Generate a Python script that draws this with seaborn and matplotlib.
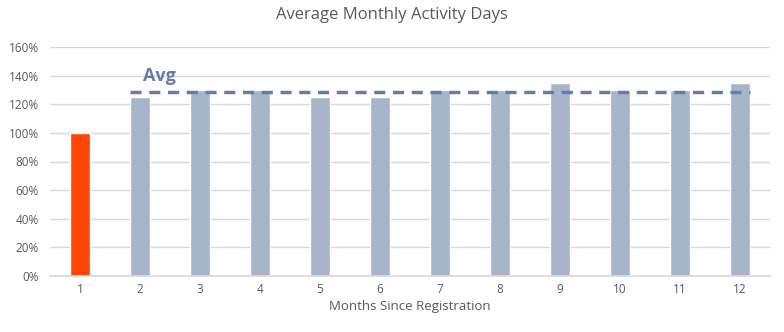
import matplotlib
matplotlib.use("Agg")
import matplotlib.pyplot as plt
import seaborn as sns
import pandas as pd
import numpy as np

months = ["1", "2", "3", "4", "5", "6", "7", "8", "9", "10", "11", "12"]
activity = [100, 125, 130, 130, 125, 125, 130, 130, 135, 130, 130, 135]
avg_value = 128.7
y_ticks = [0, 20, 40, 60, 80, 100, 120, 140, 160]

sns.set_theme(style="white")
plt.rcParams['font.family'] = ['Open Sans', 'DejaVu Sans']

df = pd.DataFrame({"month": months, "value": activity})
colors = ["#ff4500"] + ["#a7b5cb"] * (len(months) - 1)

fig = plt.figure(figsize=(7.84, 3.32), dpi=100)
ax = fig.add_axes([50/784, 1 - 276/332, 720/784, (276 - 47)/332])
sns.barplot(data=df, x="month", y="value", hue="month", palette=colors,
            legend=False, width=0.33, ax=ax, saturation=1)

ax.plot([0.83, 11.17], [avg_value, avg_value], linestyle=(0, (3.2, 2.2)),
        color="#6b7ca3", linewidth=2.5, zorder=5)
ax.text(1.05, avg_value + 4.5, "Avg", color="#6b7ca3", fontsize=13,
        fontweight="bold", ha="left", va="bottom")

ax.set_ylim(0, 160)
ax.set_xlim(-0.5, 11.5)
ax.set_yticks(y_ticks)
ax.set_yticklabels([f"{v}%" for v in y_ticks])
ax.yaxis.grid(True, color="#d9d9d9", linewidth=1)
ax.set_axisbelow(True)
for s in ["top", "right", "left"]:
    ax.spines[s].set_visible(False)
ax.spines["bottom"].set_color("#d9d9d9")
ax.tick_params(axis="y", length=0, labelsize=8.5, colors="#595959", pad=8)
ax.tick_params(axis="x", length=0, labelsize=8.5, colors="#595959", pad=5)
ax.set_xlabel("Months Since Registration", fontsize=9.5, color="#595959", labelpad=3)
ax.set_ylabel("")
fig.suptitle("Average Monthly Activity Days", fontsize=12, color="#595959", y=0.98)

fig.savefig("out.png", dpi=100)
